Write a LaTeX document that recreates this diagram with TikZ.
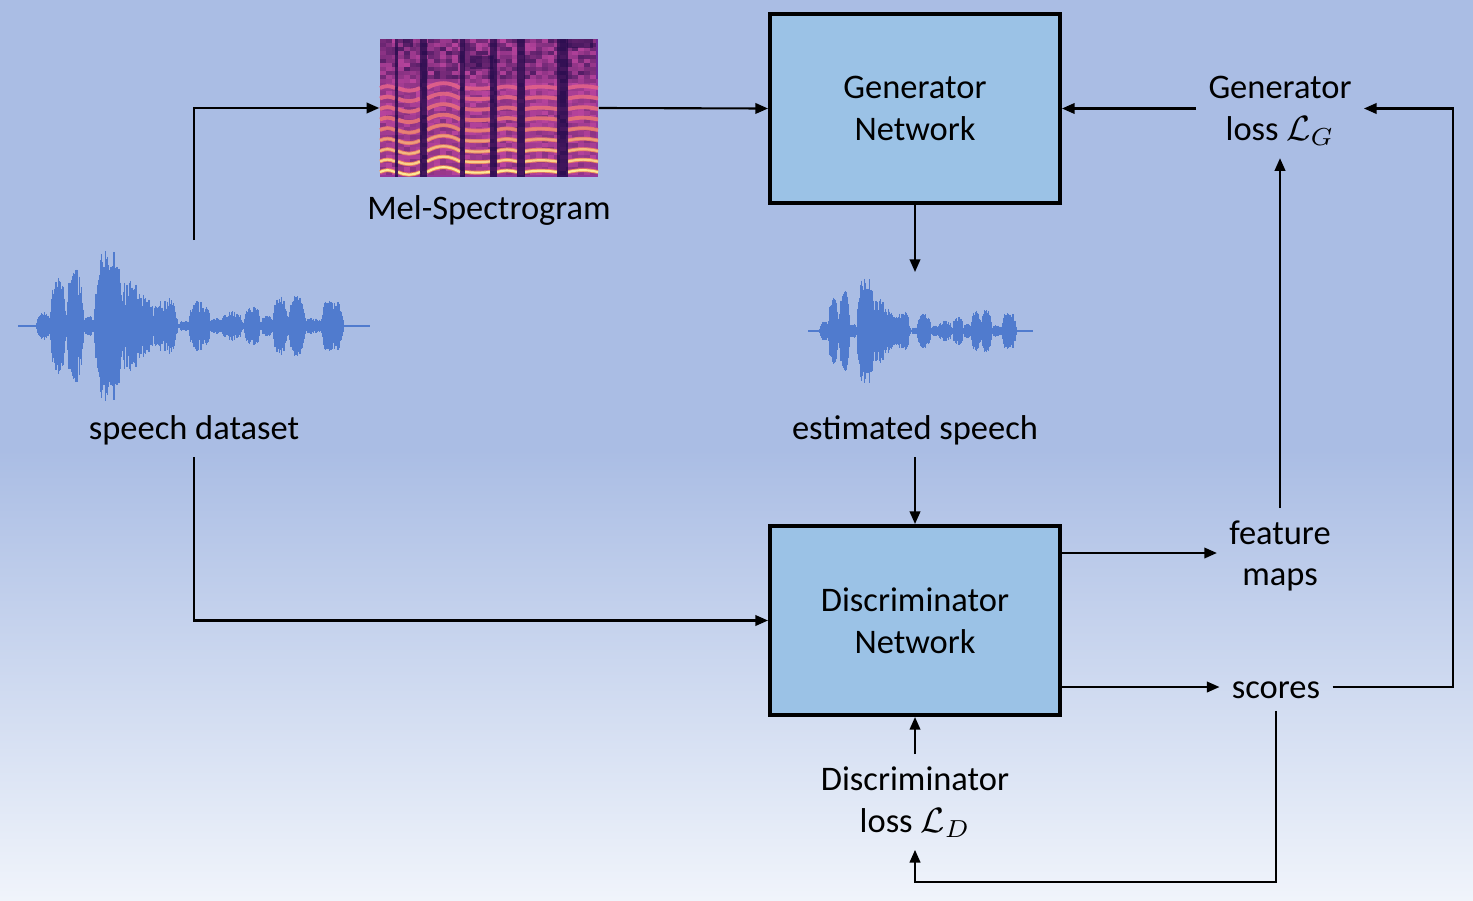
\documentclass[tikz,border=0pt]{standalone}
\usepackage{fontspec}
\setmainfont{Carlito}
\usetikzlibrary{arrows.meta,positioning}

\definecolor{bgtop}{RGB}{170,189,228}
\definecolor{bgbot}{RGB}{240,244,251}
\definecolor{boxfill}{RGB}{155,194,230}
\definecolor{wavecol}{RGB}{80,123,206}
\definecolor{specdark}{RGB}{35,10,75}
\definecolor{specbase}{RGB}{110,40,150}
\definecolor{specmag}{RGB}{190,70,160}
\definecolor{specpink}{RGB}{225,95,140}
\definecolor{specorange}{RGB}{246,145,85}
\definecolor{specyellow}{RGB}{253,232,150}

\tikzset{
  netbox/.style={draw, line width=1.1pt, fill=boxfill, minimum width=2.9cm, minimum height=1.89cm, align=center},
  lbl/.style={align=center},
  conn/.style={line width=0.6pt, -{Triangle[length=3.6pt,width=3pt]}},
  wavepen/.style={draw=wavecol, line width=0.35pt},
}

% speech waveform: #1,#2 = left end of zero line, #3 = xscale, #4 = yscale
\newcommand{\speechwave}[4]{%
  \begin{scope}[shift={(#1,#2)}, xscale=#3, yscale=#4]
    \pgfmathsetseed{11}
    \draw[wavepen, line width=0.5pt] (0,0) -- (352,0);
    \foreach \xa/\xb/\amp in {18/34/14, 32/48/50, 48/66/57, 64/78/10, 76/106/78, 98/126/46, 116/136/32,
        126/146/20, 136/153/12, 138/160/28, 160/174/5, 170/193/25, 192/204/8, 202/226/15, 226/243/20,
        242/257/10, 255/270/30, 270/288/32, 286/305/8, 302/326/27}{
      \foreach \tq in {-0.98,-0.94,...,0.98}{
        \pgfmathsetmacro\xx{(\xa+\xb)/2+\tq*(\xb-\xa)/2}
        \pgfmathsetmacro\hh{\amp*(1-\tq*\tq*\tq*\tq)*(0.45+0.55*rnd)}
        \draw[wavepen] (\xx,-\hh) -- (\xx,\hh);
      }
    }
  \end{scope}}

\begin{document}
\begin{tikzpicture}[x=0.01cm, y=-0.01cm, font=\fontsize{9.8}{11.9}\selectfont]
  \useasboundingbox (0,0) rectangle (1473,900);

  % Drawing background
  \fill[bgtop] (0,0) rectangle (1473,450);
  \shade[top color=bgtop, bottom color=bgbot] (0,449) rectangle (1473,900);

  % Drawing mel-spectrogram
  \begin{scope}[shift={(380,39)}]
    \fill[specbase] (0,0) rectangle (218,138);
    \foreach \gx in {0,6,...,212}{
      \foreach \gy in {0,4,...,134}{
        \pgfmathtruncatemacro\pp{30+65*rnd}
        \fill[specmag!\pp!specdark] (\gx,\gy) rectangle ++(6,4);
      }
    }
    \foreach \sa/\sb/\bnd in {0/15/25, 18/40/-25, 47/80/30, 85/110/-5, 117/137/15, 145/177/8, 188/218/12}{
      \fill[specmag, opacity=0.5] (\sa,40) rectangle (\sb,138);
      \foreach \k in {0,...,8}{
        \pgfmathsetmacro\sy{133-10.5*\k}
        \pgfmathtruncatemacro\cy{max(0,100-22*\k)}
        \pgfmathtruncatemacro\cp{max(0,100-12*\k)}
        \draw[line width=1.1pt, specorange!\cp!specpink, opacity=0.9] (\sa,\sy) to[bend left=\bnd] (\sb,\sy);
        \draw[line width=0.6pt, specyellow, opacity=\cy/100] (\sa,\sy) to[bend left=\bnd] (\sb,\sy);
      }
    }
    \foreach \ga/\gb in {15/18, 40/47, 80/85, 110/117, 137/145, 177/188}{
      \fill[specdark, opacity=0.75] (\ga,0) rectangle (\gb,138);
    }
    \fill[specdark, opacity=0.6] (23,0) rectangle (33,8);
    \fill[specdark, opacity=0.5] (90,17) rectangle (113,30);
    \fill[specdark, opacity=0.6] (187,0) rectangle (213,9);
  \end{scope}
  \node (mel) [minimum width=2.18cm, minimum height=1.38cm, inner sep=0] at (489,108) {};
  \node[lbl] (mellbl) at (489,210) {Mel-Spectrogram};

  % Drawing speech waveforms
  \speechwave{18}{326}{1}{1}
  \speechwave{808}{331}{0.64}{0.7}
  \coordinate (spwave) at (194,240);
  \coordinate (estwave) at (915,272);
  \node[lbl] (spdata) at (194,430) {speech dataset};
  \node[lbl] (estlbl) at (915,430) {estimated speech};

  % Drawing networks
  \node[netbox] (gen) at (915,108.5) {Generator\\Network};
  \node[netbox] (disc) at (915,620.5) {Discriminator\\Network};

  % Marking losses and outputs
  \node[lbl] (genloss) at (1280,111) {Generator\\loss $\mathcal{L}_G$};
  \node[lbl] (featmaps) at (1280,556) {feature\\maps};
  \node[lbl] (scores) at (1276,690) {scores};
  \node[lbl] (discloss) at (915,802) {Discriminator\\loss $\mathcal{L}_D$};

  % Drawing connectors
  \draw[conn] (spwave) |- (mel.west);
  \draw[conn] (mel.east) -- (gen.west);
  \draw[conn] (genloss.west |- gen.east) -- (gen.east);
  \draw[conn] (gen.south) -- (estwave);
  \draw[conn] (estlbl.south) -- (disc.north);
  \draw[conn] (spdata.south) |- (disc.west);
  \draw[conn] (disc.east |- 0,553) -- (featmaps.west |- 0,553);
  \draw[conn] (disc.east |- 0,687) -- (scores.west |- 0,687);
  \draw[conn] (featmaps.north) -- (genloss.south);
  \draw[conn] (scores.east |- 0,687) -- (1453,687) |- (genloss.east |- gen.east);
  \draw[conn] (scores.south) -- ++(0,171) -| (discloss.south);
  \draw[conn] (discloss.north) -- (disc.south);
\end{tikzpicture}
\end{document}
